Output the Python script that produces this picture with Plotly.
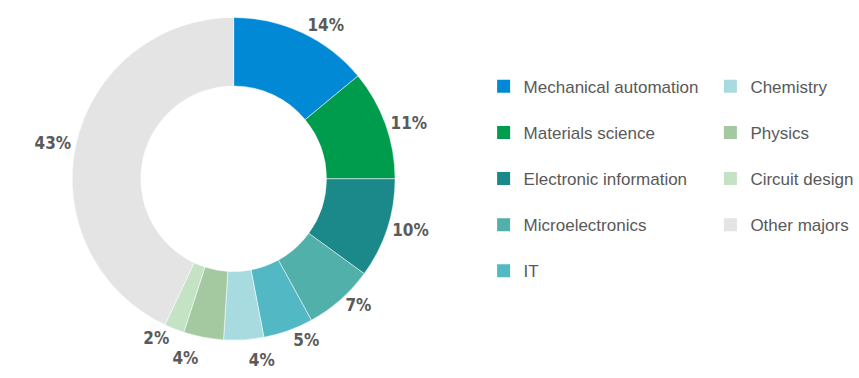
import plotly.graph_objects as go

# Share of graduates by major (percent)
majors = [
    "Mechanical automation",
    "Materials science",
    "Electronic information",
    "Microelectronics",
    "IT",
    "Chemistry",
    "Physics",
    "Circuit design",
    "Other majors",
]
shares = [14, 11, 10, 7, 5, 4, 4, 2, 43]
colors = [
    "#0289d6",
    "#009c4e",
    "#1b8889",
    "#52b0ab",
    "#52b8c4",
    "#a8dbe0",
    "#a4c9a1",
    "#c4e2c4",
    "#e4e4e4",
]

# Legend columns: first five majors on the left, the rest on the right
left_col = majors[:5]
right_col = majors[5:]

fig = go.Figure()

fig.add_trace(
    go.Pie(
        labels=majors,
        values=shares,
        sort=False,
        direction="clockwise",
        rotation=0,
        hole=0.575,
        marker=dict(colors=colors, line=dict(color="white", width=0.5)),
        texttemplate="%{value}%",
        textposition="outside",
        outsidetextfont=dict(
            family="DejaVu Sans Condensed", size=17, color="#5a5a5a", weight="bold"
        ),
        showlegend=False,
        hoverinfo="label+percent",
        domain=dict(x=[0.084, 0.460], y=[0.100, 0.954]),
    )
)

# Square legend entries, split across two legends
for name, col in zip(majors, colors):
    fig.add_trace(
        go.Scatter(
            x=[None],
            y=[None],
            mode="markers",
            marker=dict(symbol="square", size=13, color=col),
            name=name,
            legendgroup=name,
            legend="legend" if name in left_col else "legend2",
        )
    )

legend_style = dict(
    font=dict(family="Liberation Sans, Arial, sans-serif", size=17, color="#595959"),
    bgcolor="rgba(0,0,0,0)",
    traceorder="grouped",
    tracegroupgap=21,
    itemwidth=30,
    yanchor="top",
    xanchor="left",
)

fig.update_layout(
    width=859,
    height=378,
    margin=dict(l=0, r=0, t=0, b=0),
    paper_bgcolor="white",
    plot_bgcolor="white",
    xaxis=dict(visible=False),
    yaxis=dict(visible=False),
    legend=dict(x=0.563, y=0.818, **legend_style),
    legend2=dict(x=0.827, y=0.818, **legend_style),
)

# Percent labels sit free of connector lines
hide_lines = (
    "document.querySelectorAll('path.textline')"
    ".forEach(function(p){p.style.display='none';});"
)

fig.write_html("out.html", post_script=hide_lines)
